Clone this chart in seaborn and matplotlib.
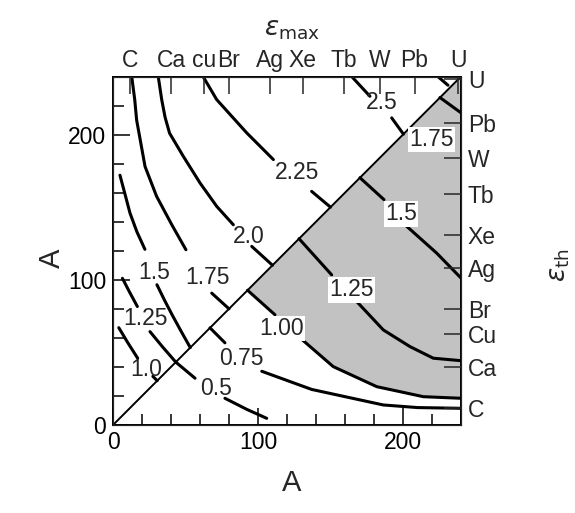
import matplotlib
matplotlib.use('Agg')
import matplotlib.pyplot as plt
import pandas as pd
import seaborn as sns

A_MAX = 240

# element masses marked on the top (eps_max) and right (eps_th) scales
elem_mass = [12, 40, 63, 80, 108, 131, 159, 184, 208, 238]
top_names = ['C', 'Ca', 'cu', 'Br', 'Ag', 'Xe', 'Tb', 'W', 'Pb', 'U']
right_names = ['C', 'Ca', 'Cu', 'Br', 'Ag', 'Xe', 'Tb', 'W', 'Pb', 'U']

# eps_max contours (upper-left triangle), pieces before / after the inline label
emax_1_0 = [[(4, 67), (10, 57), (17, 46)], [(27.5, 33.5), (30.5, 30.5)]]
emax_1_25 = [[(6.5, 101), (11.7, 91), (16.8, 81.6)], [(25.5, 64.3), (34, 54), (43.3, 43.3)]]
emax_1_5 = [[(4.8, 172), (8, 160), (11.7, 146), (16.5, 133), (22, 121)],
            [(30.3, 96.6), (35.5, 86), (40.7, 76), (47, 64.5), (53.3, 53.3)]]
emax_1_75 = [[(12.9, 240), (15, 224), (16.3, 210), (22.1, 178), (30.1, 157.4), (40.5, 138), (50.3, 120.7)],
             [(68.1, 90.8), (80, 80)]]
emax_2_0 = [[(31.2, 240), (33.6, 224), (35.9, 212), (39, 201), (48.5, 185), (60, 166.7), (71.5, 150.6), (83, 137.9)],
            [(95.7, 123), (110, 110)]]
emax_2_25 = [[(62.1, 240), (71.5, 224.1), (92.2, 201.2), (110.6, 182.8)], [(137, 160.9), (150, 150)]]
emax_2_5 = [[(164.6, 240), (177.2, 226.4)], [(192.2, 211.5), (200.3, 200.3)]]
emax_2_75 = [[(224, 240), (231, 234)]]

# eps_th contours (lower-right triangle)
eth_0_5 = [[(43.3, 43.3), (56.6, 32.2)], [(77.2, 18.4), (92.2, 10.8), (106, 4.6)]]
eth_0_75 = [[(66.9, 66.9), (77.2, 56.6)],
            [(102.6, 37), (137, 24.5), (186.4, 13.8), (210, 12), (240, 11.5)]]
eth_1_00 = [[(92.8, 92.8), (111.7, 75.9)],
            [(129, 60), (151.9, 40.2), (181.9, 26.4), (214, 19.5), (240, 18.4)]]
eth_1_25 = [[(128.3, 128.3), (150.8, 103.4)],
            [(168.1, 85), (186.4, 65.5), (204.8, 54), (220.9, 46), (240, 44.3)]]
eth_1_5 = [[(170.3, 170.3), (186.9, 155.2)], [(202.6, 136.8), (223.2, 118.4), (240, 101.2)]]
eth_1_75 = [[(225.5, 225.5), (240, 215)]]

emax_labels = [('1.0', 23, 38.5), ('1.25', 22.1, 73.6), ('1.5', 28.5, 105.3), ('1.75', 65, 101.5),
               ('2.0', 93.3, 129.9), ('2.25', 126.7, 173.6), ('2.5', 185.3, 221.9)]
eth_labels = [('0.5', 71, 25.3), ('0.75', 88.8, 46), ('1.00', 116.3, 66.5), ('1.25', 164.6, 93.1),
              ('1.5', 198.5, 145.5), ('1.75', 219.8, 196.6)]

curves = [emax_1_0, emax_1_25, emax_1_5, emax_1_75, emax_2_0, emax_2_25, emax_2_5, emax_2_75,
          eth_0_5, eth_0_75, eth_1_00, eth_1_25, eth_1_5, eth_1_75]

rows = []
seg_id = 0
for c in curves:
    for seg in c:
        for i, (x, y) in enumerate(seg):
            rows.append({'seg': seg_id, 'order': i, 'x': x, 'y': y})
        seg_id += 1
df = pd.DataFrame(rows)

sns.set_style('ticks')
plt.rcParams['font.family'] = ['Liberation Sans', 'DejaVu Sans']
plt.rcParams['mathtext.fontset'] = 'dejavusans'

FS = 16.5

fig = plt.figure(figsize=(5.75, 5.13), dpi=100)
ax = fig.add_axes([113 / 575, 1 - 425 / 513, 348 / 575, 348.5 / 513])

# shaded region: lower triangle above the eps_th = 1.00 contour
pts_100 = [p for seg in eth_1_00 for p in seg]
poly = [(pts_100[0][0], pts_100[0][0]), (A_MAX, A_MAX)] + pts_100[::-1]
ax.fill([p[0] for p in poly], [p[1] for p in poly], color='#c2c2c2', lw=0, zorder=1)

ax.plot([0, A_MAX], [0, A_MAX], color='black', lw=1.4, zorder=3)

sns.lineplot(data=df, x='x', y='y', units='seg', estimator=None, sort=False,
             color='black', lw=2.2, ax=ax, zorder=4)

for txt, x, y in emax_labels:
    ax.text(x, y, txt, ha='center', va='center', fontsize=FS, zorder=5)
for txt, x, y in eth_labels:
    boxed = txt in ('1.00', '1.25', '1.5', '1.75')
    ax.text(x, y, txt, ha='center', va='center', fontsize=FS, zorder=5,
            bbox=dict(facecolor='white', edgecolor='none', pad=1.0) if boxed else None)

ax.set_xlim(0, A_MAX)
ax.set_ylim(0, A_MAX)
ax.set_xlabel('')
ax.set_ylabel('')
ax.set_xticks([0, 100, 200])
ax.set_yticks([0, 100, 200])
ax.set_xticks(range(0, 241, 20), minor=True)
ax.set_yticks(range(0, 241, 20), minor=True)
ax.tick_params(which='both', direction='in', labelsize=FS, width=1.1, colors='black')
ax.tick_params(which='major', length=12)
ax.tick_params(which='minor', length=8)
ax.tick_params(axis='y', pad=5)
ax.tick_params(axis='x', pad=4)
for s in ax.spines.values():
    s.set_linewidth(1.4)
    s.set_color('black')

axt = ax.twiny()
axt.set_xlim(0, A_MAX)
axt.set_xticks(elem_mass)
axt.set_xticklabels(top_names)
axt.tick_params(direction='in', length=12, width=1.1, labelsize=FS, pad=3)

axr = ax.twinx()
axr.set_ylim(0, A_MAX)
axr.set_yticks(elem_mass)
axr.set_yticklabels(right_names)
axr.tick_params(direction='in', length=12, width=1.1, labelsize=FS, pad=5)

fig.text(292 / 575, 1 - 30 / 513, r'$\varepsilon_{\mathrm{max}}$', ha='center', va='center', fontsize=19)
fig.text(560 / 575, 1 - 265 / 513, r'$\varepsilon_{\mathrm{th}}$', ha='center', va='center', fontsize=19, rotation=90)
fig.text(52 / 575, 1 - 258 / 513, 'A', ha='center', va='center', fontsize=21, rotation=90)
fig.text(292 / 575, 1 - 483 / 513, 'A', ha='center', va='center', fontsize=21)

fig.savefig('out.png', dpi=100)
